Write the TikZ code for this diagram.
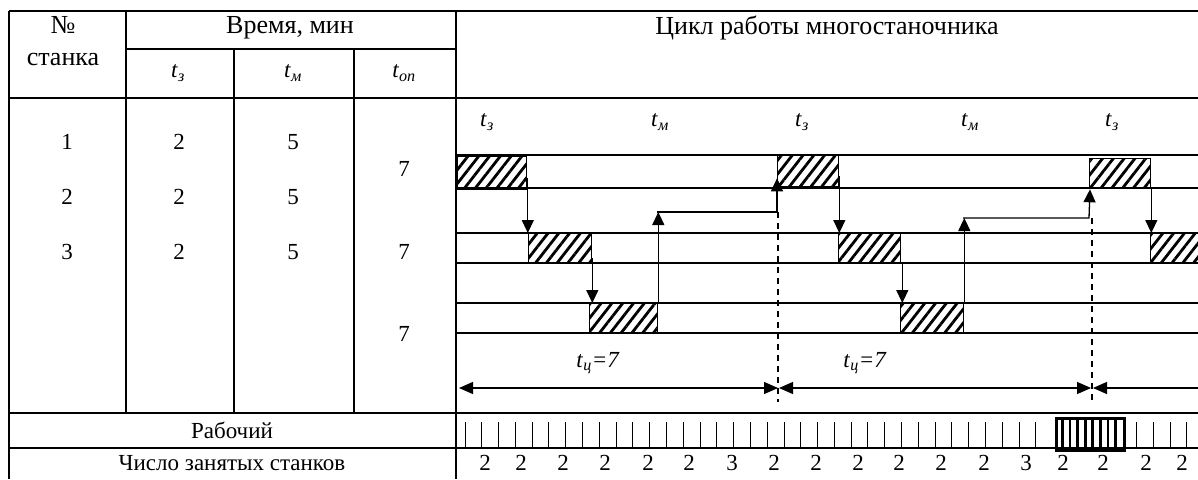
\documentclass[tikz,border=0pt]{standalone}
\usepackage{fontspec}
\setmainfont{Liberation Serif}
\usetikzlibrary{arrows.meta,patterns.meta}
\begin{document}
\begin{tikzpicture}[x=1pt,y=-1pt,
  tbl/.style={line width=1.8pt},
  cl/.style={line width=1.3pt},
  txt/.style={font=\fontsize{23}{26}\selectfont, inner sep=0pt},
  htxt/.style={font=\fontsize{26}{30}\selectfont, inner sep=0pt},
  hbox/.style={draw, line width=1.3pt, pattern={Lines[angle=52,distance=8.5pt,line width=2.8pt]}, anchor=north west, inner sep=0pt},
  arr/.style={line width=1.3pt, -{Triangle[length=13pt,width=12pt]}},
  dbl/.style={line width=1.3pt, {Triangle[length=14pt,width=12pt]}-{Triangle[length=14pt,width=12pt]}},
  dsh/.style={line width=1.3pt, dash pattern=on 6pt off 5pt},
  tick/.style={line width=1pt}
]
\useasboundingbox (0,0) rectangle (1198,479);
% ---------- table grid ----------
\draw[tbl] (9,11) -- (1198,11);
\draw[tbl] (126,49) -- (456,49);
\draw[tbl] (9,98) -- (1198,98);
\draw[tbl] (9,413) -- (1198,413);
\draw[tbl] (9,448) -- (1198,448);
\draw[tbl] (9,11) -- (9,479);
\draw[tbl] (126,11) -- (126,413);
\draw[tbl] (234,49) -- (234,413);
\draw[tbl] (354,49) -- (354,413);
\draw[tbl] (456,11) -- (456,479);
% ---------- header text ----------
\node[htxt] (hno) at (63,25) {№};
\node[htxt] (hst) at (63,60) {станка};
\node[htxt] (hvr) at (290,28) {Время, мин};
\node[txt] (htz) at (178,73) {\textit{t}\textsubscript{\textit{з}}};
\node[txt] (htm) at (293,73) {\textit{t}\textsubscript{\textit{м}}};
\node[txt] (hto) at (404,73) {\textit{t}\textsubscript{\textit{оп}}};
\node[htxt] (hcy) at (827,28) {Цикл работы многостаночника};
% ---------- table values ----------
\node[txt] (n1) at (67,142) {1};
\node[txt] (n2) at (67,197) {2};
\node[txt] (n3) at (67,252) {3};
\node[txt] (z1) at (179,142) {2};
\node[txt] (z2) at (179,197) {2};
\node[txt] (z3) at (179,252) {2};
\node[txt] (m1) at (293,142) {5};
\node[txt] (m2) at (293,197) {5};
\node[txt] (m3) at (293,252) {5};
\node[txt] (o1) at (404,169) {7};
\node[txt] (o2) at (404,252) {7};
\node[txt] (o3) at (404,334) {7};
\node[txt] (wrk) at (232,430) {Рабочий};
\node[txt] (cnt) at (232,463) {Число занятых станков};
% ---------- chart labels ----------
\node[txt] (l1) at (487,122) {\textit{t}\textsubscript{\textit{з}}};
\node[txt] (l2) at (660,122) {\textit{t}\textsubscript{\textit{м}}};
\node[txt] (l3) at (802,122) {\textit{t}\textsubscript{\textit{з}}};
\node[txt] (l4) at (970,122) {\textit{t}\textsubscript{\textit{м}}};
\node[txt] (l5) at (1112,122) {\textit{t}\textsubscript{\textit{з}}};
\node[txt] (c1l) at (598,363) {\textit{t}\textsubscript{\textit{ц}}\textit{=7}};
\node[txt] (c2l) at (865,363) {\textit{t}\textsubscript{\textit{ц}}\textit{=7}};
% ---------- chart lines ----------
\foreach \yy in {155,188,233,263,303,333} \draw[cl] (456,\yy) -- (1198,\yy);
% ---------- hatched boxes ----------
\node[hbox, minimum width=69pt, minimum height=33pt] (a1) at (456,155) {};
\node[hbox, minimum width=61pt, minimum height=31pt] (a2) at (777,155) {};
\node[hbox, minimum width=61pt, minimum height=30pt] (a3) at (1089,158) {};
\node[hbox, minimum width=63pt, minimum height=30pt] (b1) at (528,233) {};
\node[hbox, minimum width=62pt, minimum height=30pt] (b2) at (838,233) {};
\node[hbox, minimum width=50pt, minimum height=30pt] (b3) at (1150,233) {};
\node[hbox, minimum width=68pt, minimum height=30pt] (c1) at (589,303) {};
\node[hbox, minimum width=63pt, minimum height=30pt] (c2) at (900,303) {};
% ---------- flow arrows ----------
\coordinate (j1) at (657,212);
\coordinate (j2) at (963,218);
\draw[arr] ([yshift=13pt]a1.south east) -- (a1.south east |- b1.north);
\draw[arr] ([yshift=6pt]b1.south east) -- (b1.south east |- c1.north);
\draw[arr] (c1.north east) -- (c1.north east |- j1);
\draw[arr] (j1) -- (j1 -| a2.west) -- ([yshift=9pt]a2.south west);
\draw[arr] ([yshift=11pt]a2.south east) -- (a2.south east |- b2.north);
\draw[arr] ([xshift=1pt]b2.south east) -- ([xshift=1pt]b2.south east |- c2.north);
\draw[arr] (c2.north east) -- (c2.north east |- j2);
\draw[arr] (j2) -- (j2 -| a3.west) -- ([xshift=1pt]a3.south west);
\draw[arr] (a3.south east) -- (a3.south east |- b3.north);
% ---------- cycle markers ----------
\coordinate (d1t) at (778,212);
\coordinate (d1b) at (778,402);
\coordinate (d2t) at (1092,218);
\coordinate (d2b) at (1092,402);
\draw[dsh] (d1t) -- (d1b);
\draw[dsh] (d2t) -- (d2b);
\coordinate (s0) at (459,388);
\coordinate (e0) at (1198,388);
\draw[dbl] (s0) -- (d1b |- s0) ;
\draw[dbl] ([xshift=1pt]d1b |- s0) -- ([xshift=-1pt]d2b |- s0);
\draw[line width=1.3pt, {Triangle[length=14pt,width=12pt]}-] ([xshift=1pt]d2b |- s0) -- (e0);
% ---------- worker row ----------
\foreach \k in {0,...,34,40,41,42,43} \draw[tick] ({465+16.79*\k},422) -- ({465+16.79*\k},448);
\node[draw, line width=2.6pt, anchor=north west, minimum width=68pt, minimum height=32pt, inner sep=0pt] (busy) at (1055,417) {};
\foreach \i in {1,...,8} \draw[line width=2.6pt] ({1055+7.55*\i},417) -- ({1055+7.55*\i},449);
% ---------- busy counts ----------
\foreach \xx/\v [count=\c] in {485/2,521/2,563/2,605/2,648/2,689/2,732/3,774/2,816/2,858/2,899/2,941/2,984/2,1026/3,1063/2,1103/2,1146/2,1182/2}
  \node[txt] (k\c) at (\xx,463) {\v};
\end{tikzpicture}
\end{document}
